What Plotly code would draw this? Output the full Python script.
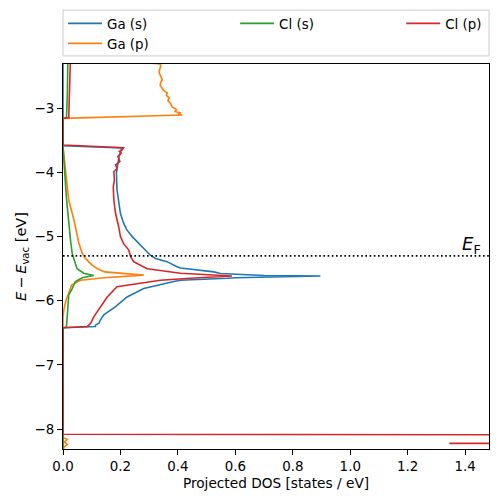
import plotly.graph_objects as go

# ---- data (energy in eV, projected DOS in states/eV) ----
ga_s_E = [-8.40, -6.42, -6.40, -6.38, -6.35, -6.30, -6.22, -6.09, -5.94, -5.81, -5.70, -5.68,
          -5.65, -5.64, -5.615, -5.605, -5.575, -5.55, -5.49, -5.47, -5.39, -5.34, -5.29,
          -5.21, -5.11, -5.00, -4.90, -4.79, -4.64, -4.48, -4.27, -4.01, -3.90, -3.75, -3.62,
          -3.585, -2.20]
ga_s_dos = [0.0, 0.0, 0.113, 0.113, 0.125, 0.130, 0.142, 0.183, 0.223, 0.281, 0.386, 0.409,
            0.571, 0.60, 0.896, 0.70, 0.548, 0.525, 0.409, 0.397, 0.362, 0.322, 0.304,
            0.287, 0.264, 0.241, 0.223, 0.211, 0.200, 0.194, 0.188, 0.186, 0.190, 0.195, 0.205,
            0.0, 0.0]

ga_p_E = [-8.40, -8.30, -8.28, -8.24, -8.20, -8.16, -8.13, -6.25, -6.14, -6.00, -5.86, -5.755,
          -5.68, -5.64, -5.60, -5.55, -5.50, -5.44, -5.34, -5.26, -5.10, -4.74, -4.43, -4.00,
          -3.62, -3.60, -3.158, -3.105, -3.09, -3.075, -3.05, -3.02, -2.98, -2.93, -2.88,
          -2.84, -2.80, -2.76, -2.72, -2.68, -2.64, -2.60, -2.55, -2.50, -2.45, -2.40, -2.35,
          -2.31, -2.29]
ga_p_dos = [0.0, 0.003, 0.003, 0.015, 0.005, 0.015, 0.0, 0.0, 0.003, 0.010, 0.020, 0.030,
            0.061, 0.142, 0.281, 0.145, 0.120, 0.100, 0.078, 0.067, 0.055, 0.038, 0.020, 0.010,
            0.002, 0.0, 0.0, 0.415, 0.400, 0.410, 0.390, 0.395, 0.380, 0.375, 0.365,
            0.370, 0.360, 0.363, 0.350, 0.345, 0.338, 0.340, 0.346, 0.340, 0.335, 0.336, 0.340,
            0.339, 0.290]

cl_s_E = [-8.40, -6.42, -6.41, -6.15, -5.91, -5.81, -5.70, -5.64, -5.605, -5.57, -5.50, -5.42,
          -5.34, -5.26, -5.05, -4.40, -3.80, -3.60, -3.16, -3.15, -2.80, -2.31, -2.20]
cl_s_dos = [0.0, 0.0, 0.012, 0.015, 0.020, 0.032, 0.043, 0.067, 0.107, 0.072, 0.049, 0.043,
            0.038, 0.032, 0.026, 0.012, 0.003, 0.0, 0.0, 0.012, 0.015, 0.017, 0.017]

cl_p_E = [-8.40, -8.232, -8.222, -8.212, -8.095, -8.08, -6.42, -6.40, -6.38, -6.35, -6.25,
          -6.09, -5.94, -5.78, -5.73, -5.68, -5.65, -5.615, -5.57, -5.54, -5.50, -5.42, -5.39,
          -5.31, -5.21, -5.11, -5.00, -4.85, -4.64, -4.43, -4.22, -4.12, -3.99, -3.94, -3.88,
          -3.83, -3.75, -3.70, -3.67, -3.65, -3.614, -3.572, -3.16, -3.145, -2.80, -2.31, -2.20]
cl_p_dos = [3.0, 3.0, 1.345, 3.0, 3.0, 0.0, 0.0, 0.085, 0.090, 0.096, 0.107,
            0.130, 0.154, 0.188, 0.258, 0.339, 0.443, 0.588, 0.409, 0.351, 0.293, 0.258, 0.246,
            0.235, 0.229, 0.211, 0.200, 0.194, 0.183, 0.177, 0.175, 0.179, 0.177, 0.188, 0.183,
            0.198, 0.191, 0.203, 0.196, 0.206, 0.211, 0.0, 0.0, 0.020, 0.023, 0.026, 0.026]

fermi_level = -5.30
series_names = ["Ga (s)", "Ga (p)", "Cl (s)", "Cl (p)"]
colors = ["#1f77b4", "#ff7f0e", "#2ca02c", "#d62728"]
legend_ids = ["legend", "legend4", "legend2", "legend3"]
x_ticks = [0.0, 0.2, 0.4, 0.6, 0.8, 1.0, 1.2, 1.4]
y_ticks = [-8, -7, -6, -5, -4, -3]

FONT = "DejaVu Sans"
FS = 13.4

fig = go.Figure()
for name, E, d, c, lg in zip(series_names,
                             [ga_s_E, ga_p_E, cl_s_E, cl_p_E],
                             [ga_s_dos, ga_p_dos, cl_s_dos, cl_p_dos],
                             colors, legend_ids):
    fig.add_trace(go.Scatter(x=d, y=E, mode="lines", name=name,
                             line=dict(color=c, width=1.6), legend=lg))

# Fermi level
fig.add_trace(go.Scatter(x=[0, 1.483], y=[fermi_level, fermi_level], mode="lines",
                         line=dict(color="black", width=1.6, dash="1.6px,2.6px"),
                         showlegend=False, hoverinfo="skip"))

fig.add_annotation(x=1.462, y=fermi_level, xref="x", yref="y", text="<i>E</i><sub>F</sub>",
                   showarrow=False, xanchor="right", yanchor="bottom", yshift=-3,
                   font=dict(family=FONT, size=18, color="black"))

# legend frame
fig.add_shape(type="rect", xref="paper", yref="paper", x0=0, x1=1.0, y0=1.021, y1=1.140,
              line=dict(color="#cccccc", width=1), fillcolor="white", layer="below")

leg_common = dict(orientation="v", yanchor="top", xanchor="left", bgcolor="rgba(0,0,0,0)",
                  borderwidth=0, font=dict(family=FONT, size=FS, color="black"),
                  itemwidth=34, tracegroupgap=0)
row1 = 1.145
row2 = row1 - 20 / 385
fig.update_layout(
    width=498, height=502,
    margin=dict(l=63, r=9, t=64, b=53, autoexpand=False),
    paper_bgcolor="white", plot_bgcolor="white",
    font=dict(family=FONT, size=FS, color="black"),
    legend=dict(x=0.0, y=row1, **leg_common),
    legend4=dict(x=0.0, y=row2, **leg_common),
    legend2=dict(x=0.404, y=row1, **leg_common),
    legend3=dict(x=0.794, y=row1, **leg_common),
    xaxis=dict(range=[0, 1.483], tickvals=x_ticks, ticktext=[f"{v:.1f}" for v in x_ticks],
               showgrid=False, zeroline=False, showline=True, linecolor="black", linewidth=1,
               mirror=True, ticks="outside", ticklen=5, tickwidth=1, tickcolor="black",
               tickfont=dict(family=FONT, size=FS, color="black"),
               title=dict(text="Projected DOS [states / eV]", standoff=5,
                          font=dict(family=FONT, size=13.7, color="black")),
               layer="above traces"),
    yaxis=dict(range=[-8.31, -2.31], tickvals=y_ticks, ticktext=[f"\u2212{abs(v)}" for v in y_ticks],
               showgrid=False, zeroline=False, showline=True, linecolor="black", linewidth=1,
               mirror=True, ticks="outside", ticklen=5, tickwidth=1, tickcolor="black",
               tickfont=dict(family=FONT, size=FS, color="black"),
               title=dict(text="<i>E</i>\u2009\u2212\u2009<i>E</i><sub>vac</sub> [eV]", standoff=4,
                          font=dict(family=FONT, size=14.5, color="black")),
               layer="above traces"),
)

fig.write_html("out.html", config={"displayModeBar": False},
               post_script="document.body.style.margin='0px';")
